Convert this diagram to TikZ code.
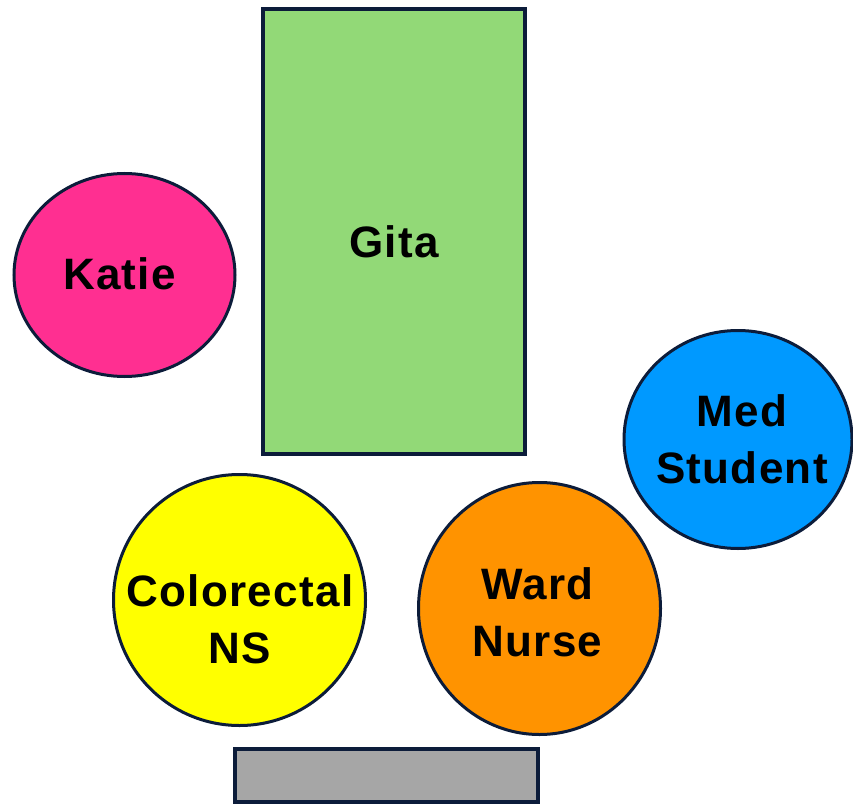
\documentclass[tikz,border=0pt]{standalone}
\usepackage{fontspec}
\setmainfont{Liberation Sans}[LetterSpace=3]
\usetikzlibrary{shapes.geometric}
\definecolor{edge}{HTML}{0C1C3A}
\definecolor{gitagreen}{HTML}{92D977}
\definecolor{katiepink}{HTML}{FF2F91}
\definecolor{medblue}{HTML}{0099FF}
\definecolor{nsyellow}{HTML}{FFFF00}
\definecolor{nurseorange}{HTML}{FF9300}
\definecolor{deskgray}{HTML}{A6A6A6}
\begin{document}
\begin{tikzpicture}[x=1pt,y=-1pt]
\tikzstyle{person}=[ellipse,draw=edge,line width=3pt,inner sep=0pt]
\tikzstyle{desk}=[rectangle,draw=edge,line width=4pt,inner sep=0pt]
\tikzstyle{who}=[font=\fontsize{44}{57}\selectfont\bfseries,align=center,inner sep=0pt]
\useasboundingbox (0,0) rectangle (853,805);
% bed and table
\node[desk,fill=gitagreen,minimum width=262pt,minimum height=445pt] (gita) at (394,231.5) {};
\node[desk,fill=deskgray,minimum width=303pt,minimum height=53pt] (table) at (386.5,775.5) {};
% people round the bed
\node[person,fill=katiepink,minimum width=221pt,minimum height=203pt] (katie) at (124.5,275) {};
\node[person,fill=medblue,minimum width=228pt,minimum height=218pt] (med) at (738,439.5) {};
\node[person,fill=nsyellow,minimum width=252pt,minimum height=251pt] (ns) at (239.5,600) {};
\node[person,fill=nurseorange,minimum width=242pt,minimum height=252pt] (nurse) at (539.5,608.5) {};
% names
\node[who] (gitaname) at (394,242) {Gita};
\node[who] (katiename) at (119.5,274) {Katie};
\node[who] (medname) at (742,439.5) {Med\\Student};
\node[who] (nsname) at (240,619) {Colorectal\\NS};
\node[who] (nursename) at (537.5,612.5) {Ward\\Nurse};
\end{tikzpicture}
\end{document}
